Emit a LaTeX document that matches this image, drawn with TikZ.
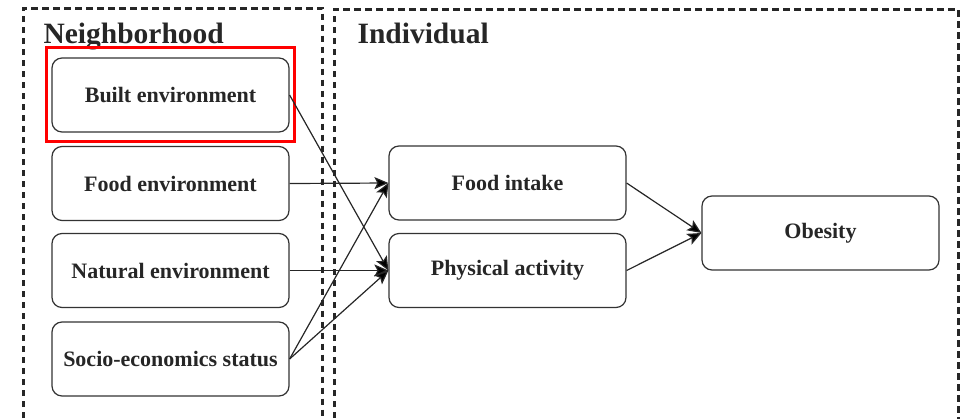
\documentclass[tikz,border=0pt]{standalone}
\usepackage{fontspec}
\setmainfont{Liberation Serif}
\usetikzlibrary{arrows.meta}
\tikzset{
	factor/.style={draw=black!80, line width=1.2pt, rounded corners=10pt, fill=white,
		minimum width=237pt, minimum height=74pt, inner sep=0pt,
		font=\fontsize{22}{26}\selectfont\bfseries, text=black!85},
	group/.style={draw=black!85, line width=3pt, dash pattern=on 6.5pt off 4.5pt},
	grouptitle/.style={anchor=base west, font=\fontsize{29.5}{34}\selectfont\bfseries, text=black!85},
	link/.style={draw=black!85, line width=1.2pt, -{Stealth[length=14pt,width=12pt,inset=3pt,fill=black]}},
}
\begin{document}
\begin{tikzpicture}[x=1pt,y=-1pt]
	\useasboundingbox (0,0) rectangle (968,418);
	% groups
	\draw[group] (23,440) -- (23,8) -- (322.5,8) -- (322.5,440);
	\draw[group] (334,440) -- (334,9) -- (958,9) -- (958,440);
	\node[grouptitle] (neigh) at (40,43) {Neighborhood};
	\node[grouptitle] (indiv) at (354,43) {Individual};
	% neighborhood factors
	\node[factor] (built) at (170.5,95) {Built environment};
	\node[factor] (foodenv) at (170.5,183.5) {Food environment};
	\node[factor] (natural) at (170.5,270.5) {Natural environment};
	\node[factor] (socio) at (170.5,359) {Socio-economics status};
	\draw[red, line width=3.5pt] ([shift={(-5,-10)}]built.north west) rectangle ([shift={(5,9)}]built.south east);
	% individual factors
	\node[factor] (intake) at (507.5,183) {Food intake};
	\node[factor] (activity) at (507.5,270.5) {Physical activity};
	\node[factor] (obesity) at (820.5,233) {Obesity};
	% links
	\draw[link] (built.east) -- (activity.west);
	\draw[link] (foodenv.east) -- (intake.west);
	\draw[link] (natural.east) -- (activity.west);
	\draw[link] (socio.east) -- (intake.west);
	\draw[link] (socio.east) -- (activity.west);
	\draw[link] (intake.east) -- (obesity.west);
	\draw[link] (activity.east) -- (obesity.west);
\end{tikzpicture}
\end{document}
